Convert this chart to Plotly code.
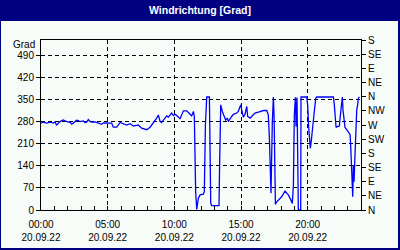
import plotly.graph_objects as go

# time of day in hours (20.09.22)
hours = [0.0, 0.17, 0.42, 0.68, 0.92, 1.05, 1.17, 1.3, 1.42, 1.55, 1.67, 1.8, 1.92, 2.05, 2.17, 2.3, 2.42,
         2.55, 2.67, 2.8, 2.92, 3.17, 3.3, 3.42, 3.55, 3.67, 3.8, 4.05, 4.3, 4.55, 4.67, 4.92, 5.3, 5.42,
         5.68, 5.93, 6.17, 6.43, 6.68, 6.92, 7.18, 7.3, 7.55, 7.68, 7.93, 8.18, 8.43, 8.68, 8.8, 8.93,
         9.05, 9.18, 9.43, 9.55, 9.68, 9.8, 9.93, 10.05, 10.18, 10.43, 10.68, 10.93, 11.18, 11.3, 11.43,
         11.5, 11.6, 11.68, 11.8, 11.93, 12.18, 12.25, 12.33, 12.43, 12.63, 12.65, 12.73, 12.8, 13.35,
         13.4, 13.48, 13.6, 13.73, 13.85, 13.98, 14.05, 14.3, 14.43, 14.68, 14.8, 14.93, 15.0, 15.05,
         15.18, 15.3, 15.43, 15.5, 15.68, 15.8, 16.05, 16.3, 16.68, 16.93, 17.05, 17.13, 17.2, 17.25,
         17.35, 17.43, 17.48, 17.53, 17.58, 17.68, 17.8, 18.05, 18.3, 18.55, 18.68, 18.85, 18.93, 19.0,
         19.08, 19.13, 19.2, 19.3, 19.48, 19.5, 19.93, 20.0, 20.08, 20.13, 20.2, 20.28, 20.38, 20.5,
         20.6, 20.68, 21.93, 22.0, 22.08, 22.13, 22.23, 22.38, 22.43, 22.53, 22.6, 22.65, 22.7, 22.8,
         22.93, 23.05, 23.13, 23.18, 23.23, 23.3, 23.38, 23.43, 23.48, 23.55, 23.6, 23.68, 23.75, 23.8,
         23.88]
direction = [276, 279, 276, 279, 276, 280, 270, 276, 280, 284, 286, 283, 281, 279, 280, 273, 276,
             281, 285, 284, 281, 283, 278, 279, 287, 281, 279, 280, 277, 272, 277, 277, 276, 263,
             263, 278, 274, 270, 274, 267, 269, 270, 260, 258, 255, 263, 276, 292, 302, 281,
             278, 284, 299, 295, 302, 308, 300, 304, 300, 290, 315, 315, 304, 299, 313,
             297, 58, 2, 37, 48, 50, 58, 270, 359, 359, 276, 21, 14, 14,
             154, 334, 313, 297, 286, 292, 281, 297, 304, 308, 313, 329, 334, 318,
             295, 304, 329, 297, 292, 297, 308, 311, 316, 316, 302, 228, 80, 53,
             281, 359, 297, 186, 18, 26, 32, 42, 60, 48, 37, 21, 80, 302,
             358, 265, 357, 0, 0, 359, 359, 334, 260, 212, 196, 223, 265, 334,
             355, 359, 359, 334, 297, 262, 265, 267, 292, 334, 359, 318, 292, 262,
             255, 249, 244, 239, 201, 122, 42, 143, 90, 175, 262, 318, 334, 355,
             359]

x_tickvals = [0, 5, 10, 15, 20]
x_ticktext = ["00:00<br>20.09.22", "05:00<br>20.09.22", "10:00<br>20.09.22",
              "15:00<br>20.09.22", "20:00<br>20.09.22"]
y_tickvals = [0, 70, 140, 210, 280, 350, 420, 490]
compass_vals = [0, 45, 90, 135, 180, 225, 270, 315, 360, 405, 450, 495, 540]
compass_text = ["N", "NE", "E", "SE", "S", "SW", "W", "NW", "N", "NE", "E", "SE", "S"]

NAVY = "#000080"
BG = "#F8FCF8"
FONT = "Liberation Sans"
FS = 10

fig = go.Figure()
fig.add_trace(go.Scatter(x=hours, y=direction, mode="lines",
                         line=dict(color="#0000FF", width=1.3), showlegend=False))
fig.add_trace(go.Scatter(x=[None], y=[None], yaxis="y2", showlegend=False))

W, H = 400, 250
L, R, T, B = 41, 39, 40, 40
pw, ph = W - L - R, H - T - B


def px(xp):
    return (xp - L) / pw


def py(yp):
    return (H - B - yp) / ph


fig.update_layout(
    width=W, height=H,
    margin=dict(l=L, r=R, t=T, b=B, pad=0, autoexpand=False),
    paper_bgcolor=NAVY, plot_bgcolor=BG,
    font=dict(family=FONT, size=FS, color="black"),
    xaxis=dict(range=[0, 24], tickmode="array", tickvals=x_tickvals, ticktext=x_ticktext,
               ticks="inside", ticklen=4, tickcolor="black", ticklabelstandoff=5,
               automargin=False,
               showline=True, linecolor="black", linewidth=1, mirror=True,
               showgrid=True, gridcolor="black", griddash="4px,3px", gridwidth=1,
               zeroline=False,
               minor=dict(dtick=1, tick0=0, ticks="inside", ticklen=4, tickcolor="black", showgrid=False)),
    yaxis=dict(range=[0, 540], tickmode="array", tickvals=y_tickvals,
               ticks="outside", ticklen=4, tickcolor="black", automargin=False,
               showline=True, linecolor="black", linewidth=1,
               showgrid=True, gridcolor="black", griddash="4px,3px", gridwidth=1,
               zeroline=False),
    yaxis2=dict(range=[0, 540], overlaying="y", side="right", tickmode="array",
                tickvals=compass_vals, ticktext=compass_text, automargin=False,
                ticks="outside", ticklen=4, tickcolor="black",
                showline=True, linecolor="black", linewidth=1, showgrid=False, zeroline=False),
    shapes=[dict(type="rect", xref="paper", yref="paper", layer="below",
                 x0=px(1), x1=px(398), y0=py(248), y1=py(21),
                 fillcolor=BG, line=dict(width=0))],
    annotations=[
        dict(text="<b>Windrichtung [Grad]</b>", xref="paper", yref="paper",
             x=px(200), y=py(10), xanchor="center", yanchor="middle", showarrow=False,
             font=dict(family=FONT, size=10.5, color="white")),
        dict(text="Grad", xref="paper", yref="paper", x=px(37), y=py(44),
             xanchor="right", yanchor="middle", showarrow=False,
             font=dict(family=FONT, size=FS, color="black")),
    ],
)

fig.write_html("out.html")
